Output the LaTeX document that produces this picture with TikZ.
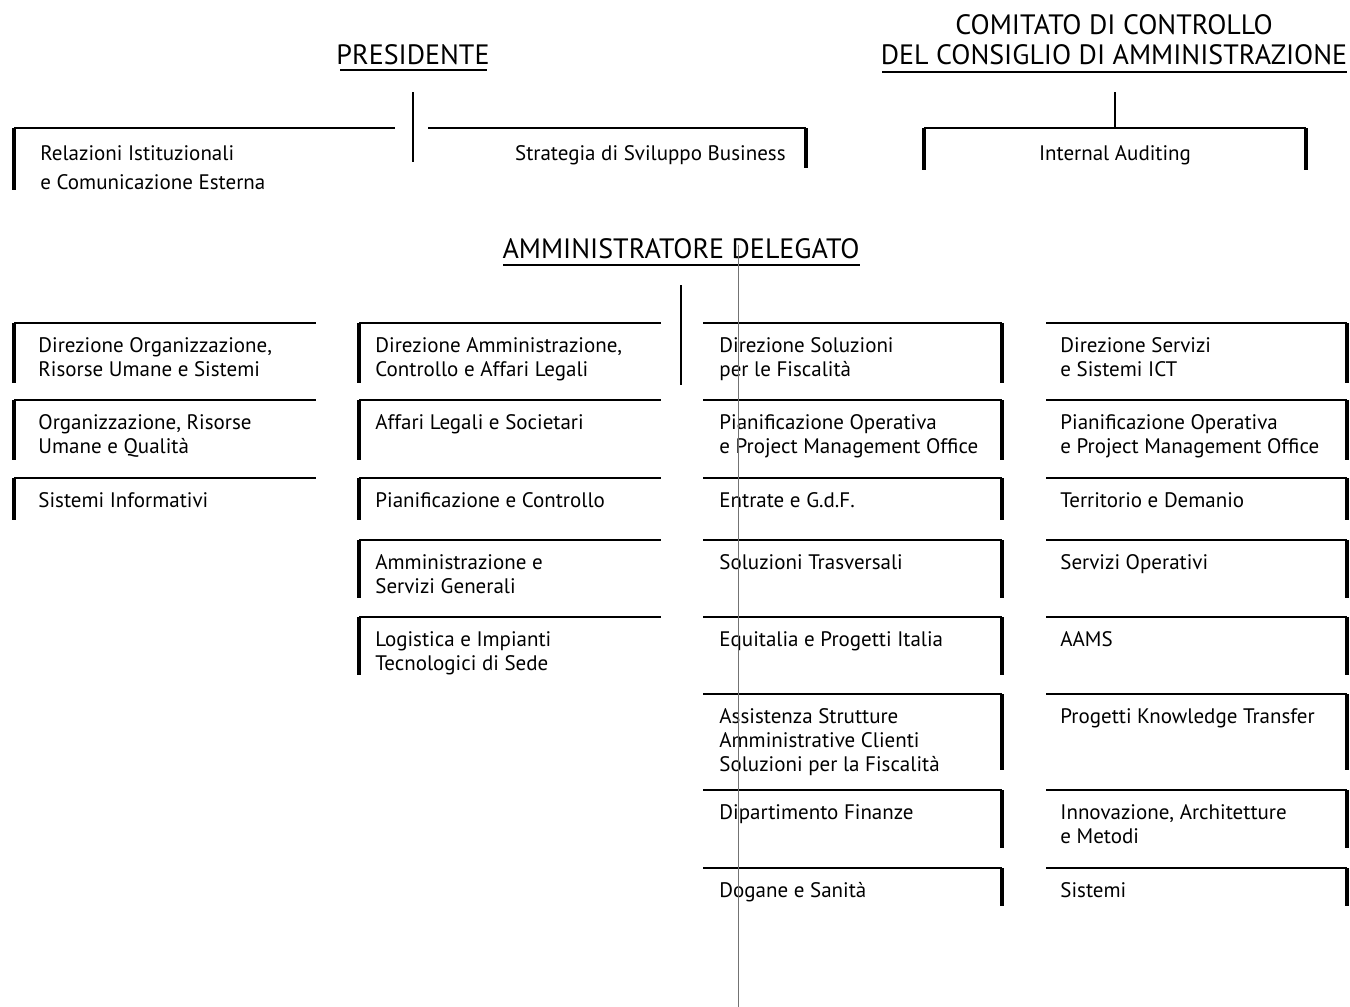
\documentclass[tikz,border=0pt]{standalone}
\usepackage{fontspec}
\setmainfont{PT Sans}
\tikzset{
  hline/.style={line width=1pt},
  barline/.style={line width=2.4pt},
  conn/.style={line width=0.6pt},
  lbl/.style={font=\fontsize{10.5}{12}\selectfont, inner sep=0pt},
  head/.style={font=\fontsize{14}{15}\selectfont, inner sep=0pt, align=center},
  area/.style={inner sep=0pt, outer sep=0pt, anchor=north west},
}
\newcommand\ttab[1]{\begin{tabular}[t]{@{}l@{}}#1\end{tabular}}
\newcommand\orgbox[8]{%
  \node[area, minimum width={(#3-#2)*0.5pt}, minimum height={(#5-#4)*0.5pt}] (#1) at (#2,#4) {};
  \draw[hline] (#1.north west) -- (#1.north east);
  \draw[barline] (#1.north #6) -- (#1.south #6);
  \node[lbl, anchor=base west] (#1-t) at (#7,#4+29) {\ttab{#8}};
}
\begin{document}
\begin{tikzpicture}[x=0.5pt,y=-0.5pt]
\useasboundingbox (0,0) rectangle (1350,1007);
% headers
\node[head, anchor=base] (pres) at (413,64) {PRESIDENTE};
\draw[hline] (340,70) -- (487,70);
\node[head, anchor=base] (com1) at (1114,34) {COMITATO DI CONTROLLO};
\node[head, anchor=base] (com2) at (1114,64) {DEL CONSIGLIO DI AMMINISTRAZIONE};
\draw[hline] (882,72) -- (1347,72);
\node[head, anchor=base] (ad) at (681,258) {AMMINISTRATORE DELEGATO};
\draw[hline] (503,265) -- (860,265);
% top boxes
\node[area, minimum width={(395-14)*0.5pt}, minimum height={62*0.5pt}] (rel) at (14,128) {};
\draw[hline] (rel.north west) -- (rel.north east);
\draw[barline] (rel.north west) -- (rel.south west);
\node[lbl, anchor=base west] (rel-t) at (40,160) {\ttab{Relazioni Istituzionali\\[2.5pt]e Comunicazione Esterna}};
\node[area, minimum width={(806-428)*0.5pt}, minimum height={40*0.5pt}] (str) at (428,128) {};
\draw[hline] (str.north west) -- (str.north east);
\draw[barline] (str.north east) -- (str.south east);
\node[lbl, anchor=base east] (str-t) at (786,160) {Strategia di Sviluppo Business};
\node[area, minimum width={(1306-924)*0.5pt}, minimum height={42*0.5pt}] (ia) at (924,128) {};
\draw[hline] (ia.north west) -- (ia.north east);
\draw[barline] (ia.north west) -- (ia.south west);
\draw[barline] (ia.north east) -- (ia.south east);
\node[lbl, anchor=base] (ia-t) at (1115,160) {Internal Auditing};
% connectors
\coordinate (presA) at (413,92); \coordinate (presB) at (413,162);
\draw[conn] (presA) -- (presB);
\coordinate (comA) at (1115,92);
\draw[conn] (comA) -- (ia.north);
\coordinate (adA) at (681,285); \coordinate (adB) at (681,385);
\draw[conn] (adA) -- (adB);
% column 1
\orgbox{a1}{14}{316}{323}{383}{west}{38}{Direzione Organizzazione,\\Risorse Umane e Sistemi}
\orgbox{a2}{14}{316}{400}{460}{west}{38}{Organizzazione, Risorse\\Umane e Qualità}
\orgbox{a3}{14}{316}{478}{520}{west}{38}{Sistemi Informativi}
% column 2
\orgbox{b1}{359}{661}{323}{383}{west}{375}{Direzione Amministrazione,\\Controllo e Affari Legali}
\orgbox{b2}{359}{661}{400}{460}{west}{375}{Affari Legali e Societari}
\orgbox{b3}{359}{661}{478}{520}{west}{375}{Pianificazione e Controllo}
\orgbox{b4}{359}{661}{540}{598}{west}{375}{Amministrazione e\\Servizi Generali}
\orgbox{b5}{359}{661}{617}{675}{west}{375}{Logistica e Impianti\\Tecnologici di Sede}
% column 3
\orgbox{c1}{703}{1002}{323}{383}{east}{719}{Direzione Soluzioni\\per le Fiscalità}
\orgbox{c2}{703}{1002}{400}{460}{east}{719}{Pianificazione Operativa\\e Project Management Office}
\orgbox{c3}{703}{1002}{478}{520}{east}{719}{Entrate e G.d.F.}
\orgbox{c4}{703}{1002}{540}{598}{east}{719}{Soluzioni Trasversali}
\orgbox{c5}{703}{1002}{617}{675}{east}{719}{Equitalia e Progetti Italia}
\orgbox{c6}{703}{1002}{694}{770}{east}{719}{Assistenza Strutture\\Amministrative Clienti\\Soluzioni per la Fiscalità}
\orgbox{c7}{703}{1002}{790}{848}{east}{719}{Dipartimento Finanze}
\orgbox{c8}{703}{1002}{868}{906}{east}{719}{Dogane e Sanità}
% column 4
\orgbox{d1}{1046}{1347}{323}{383}{east}{1060}{Direzione Servizi\\e Sistemi ICT}
\orgbox{d2}{1046}{1347}{400}{460}{east}{1060}{Pianificazione Operativa\\e Project Management Office}
\orgbox{d3}{1046}{1347}{478}{520}{east}{1060}{Territorio e Demanio}
\orgbox{d4}{1046}{1347}{540}{598}{east}{1060}{Servizi Operativi}
\orgbox{d5}{1046}{1347}{617}{675}{east}{1060}{AAMS}
\orgbox{d6}{1046}{1347}{694}{770}{east}{1060}{Progetti Knowledge Transfer}
\orgbox{d7}{1046}{1347}{790}{848}{east}{1060}{Innovazione, Architetture\\e Metodi}
\orgbox{d8}{1046}{1347}{868}{906}{east}{1060}{Sistemi}
% thin vertical line
\coordinate (vA) at (738,245); \coordinate (vB) at (738,1007);
\draw[line width=0.4pt, black!55] (vA) -- (vB);
\end{tikzpicture}
\end{document}
